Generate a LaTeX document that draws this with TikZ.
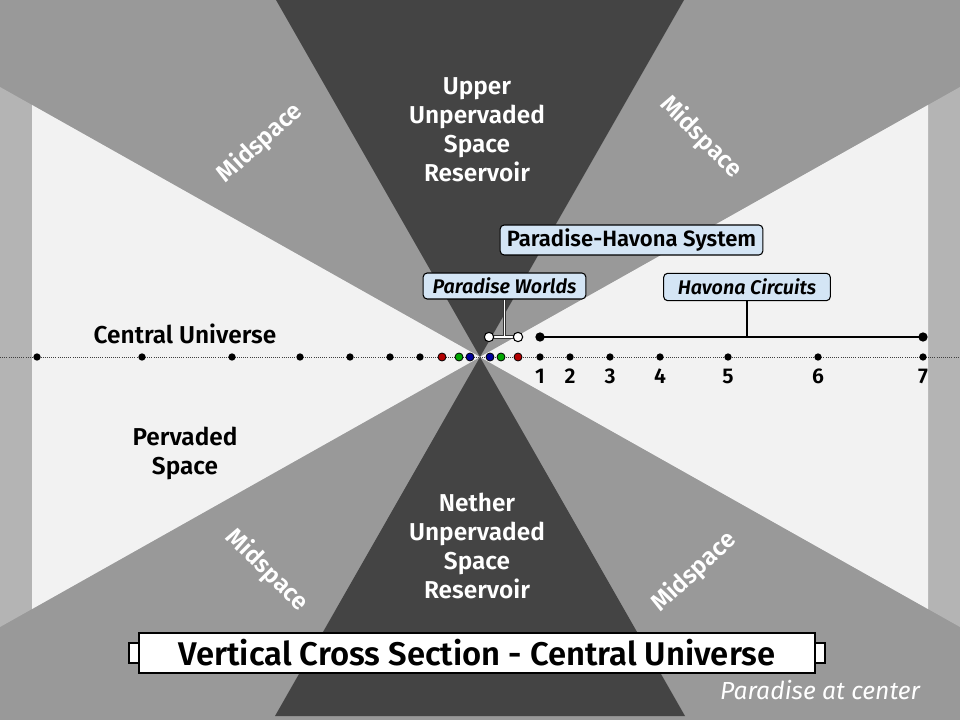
\documentclass[tikz,border=0pt]{standalone}
\usepackage{fontspec}
\IfFontExistsTF{Fira Sans SemiBold}
  {\setmainfont{Fira Sans}[BoldFont={Fira Sans SemiBold},BoldItalicFont={Fira Sans SemiBold Italic}]}
  {\setmainfont{Fira Sans}}
\usetikzlibrary{positioning}

\definecolor{darkres}{HTML}{444444}
\definecolor{midgray}{HTML}{999999}
\definecolor{pervaded}{HTML}{F2F2F2}
\definecolor{rim}{HTML}{B4B4B4}
\definecolor{boxblue}{HTML}{D4E5F5}

\tikzset{
  lbl/.style={font=\fontsize{18.3}{21.75}\selectfont\bfseries, align=center, inner sep=0pt},
  whitelbl/.style={lbl, text=white},
  numlbl/.style={font=\fontsize{16}{18}\selectfont\bfseries, inner sep=0pt},
  tag/.style={draw, rounded corners=3pt, fill=boxblue, line width=0.8pt, inner sep=0pt},
  orbit/.style={circle, fill=black, inner sep=0pt, minimum size=5.5pt},
  world/.style={circle, draw=black, fill=#1, line width=0.6pt, inner sep=0pt, minimum size=6pt},
}

\begin{document}
\begin{tikzpicture}[x=0.75pt, y=-0.75pt]
  \fill[midgray] (0,0) rectangle (960,720);
  \useasboundingbox (0,0) rectangle (960,720);

  % pervaded space and its rim
  \fill[rim] (0,87) -- (480,357) -- (0,627) -- cycle;
  \fill[rim] (960,87) -- (480,357) -- (960,627) -- cycle;
  \fill[pervaded] (32,105) -- (480,357) -- (32,609) -- cycle;
  \fill[pervaded] (928,105) -- (480,357) -- (928,609) -- cycle;

  % unpervaded space reservoirs
  \fill[darkres] (276,0) -- (684,0) -- (480,357) -- cycle;
  \fill[darkres] (275,716) -- (685,716) -- (480,357) -- cycle;

  % axis through paradise
  \coordinate (paradise) at (480,357);
  \draw[densely dotted, black!75, line width=0.6pt] (0,357) -- (960,357);

  \foreach \d [count=\i] in {60,90,130,180,248,338,443} {
    \node[orbit] (r\i) at (480+\d,357) {};
    \node[orbit] (l\i) at (480-\d,357) {};
    \node[numlbl, below=6pt of r\i] (n\i) {\i};
  }
  \foreach \d/\c [count=\i] in {10/blue!60!black, 21/green!65!black, 38/red!70!black} {
    \node[world=\c] (wr\i) at (480+\d,357) {};
    \node[world=\c] (wl\i) at (480-\d,357) {};
  }

  % labels of the boxes
  \node[tag, minimum width=197pt, minimum height=22.5pt, font=\fontsize{16.6}{18}\selectfont\bfseries]
    (phs) at (631.5,240) {Paradise-Havona System};
  \node[tag, minimum width=122pt, minimum height=19.5pt, font=\fontsize{14.8}{16}\selectfont\bfseries\itshape]
    (pw) at (504.5,286) {Paradise Worlds};
  \node[tag, minimum width=125pt, minimum height=20.5pt, font=\fontsize{14.8}{16}\selectfont\bfseries\itshape]
    (hc) at (747,287) {Havona Circuits};

  % havona circuits bracket
  \coordinate (h1) at (540,337);
  \coordinate (h7) at (923,337);
  \draw[line width=2pt] (h1) -- (h7);
  \draw[line width=1.5pt] (hc.south) -- (hc.south |- h1);
  \node[orbit, minimum size=7pt] (hd1) at (h1) {};
  \node[orbit, minimum size=7pt] (hd7) at (h7) {};

  % paradise worlds bracket
  \coordinate (pw1) at (489,337);
  \coordinate (pw2) at (518,337);
  \coordinate (pwm) at (pw.south |- pw1);
  \draw[line width=2.4pt, black!80] (pw1) -- (pw2) (pw.south) -- (pwm);
  \draw[line width=1.2pt, white] (pw1) -- (pw2) (pw.south) -- (pwm);
  \node[world=white, line width=0.8pt, minimum size=7pt] (pwd1) at (pw1) {};
  \node[world=white, line width=0.8pt, minimum size=7pt] (pwd2) at (pw2) {};

  % region names
  \node[whitelbl] (upper) at (477,130) {Upper\\Unpervaded\\Space\\Reservoir};
  \node[whitelbl] (nether) at (477,546) {Nether\\Unpervaded\\Space\\Reservoir};
  \node[lbl] (cu) at (185,334) {Central Universe};
  \node[lbl] (ps) at (185,453) {Pervaded\\Space};
  \node[whitelbl, rotate=42] (ms1) at (260,143) {Midspace};
  \node[whitelbl, rotate=-45] (ms2) at (701,137) {Midspace};
  \node[whitelbl, rotate=-45] (ms3) at (267,570) {Midspace};
  \node[whitelbl, rotate=43] (ms4) at (694,572) {Midspace};

  % title
  \draw[fill=white, line width=0.8pt] (129,643) rectangle (150,663);
  \draw[fill=white, line width=0.8pt] (825,643) rectangle (804,663);
  \node[draw, fill=white, line width=0.9pt, minimum width=507pt, minimum height=30pt,
    font=\fontsize{24.6}{28}\selectfont\bfseries] (title) at (477,653) {Vertical Cross Section - Central Universe};
  \node[font=\fontsize{18.5}{20}\selectfont\itshape, text=white] (pac) at (820,690) {Paradise at center};
\end{tikzpicture}
\end{document}
